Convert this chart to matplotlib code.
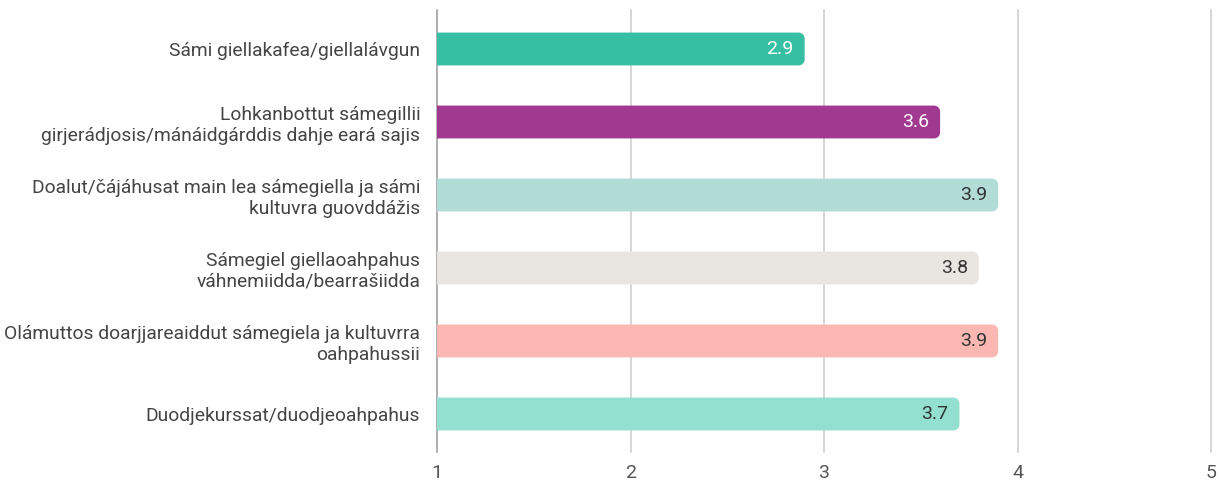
import matplotlib
matplotlib.use("Agg")
import matplotlib.pyplot as plt
from matplotlib.patches import PathPatch
from matplotlib.path import Path

categories = [
    "Sámi giellakafea/giellalávgun",
    "Lohkanbottut sámegillii\ngirjerádjosis/mánáidgárddis dahje eará sajis",
    "Doalut/čájáhusat main lea sámegiella ja sámi\nkultuvra guovddážis",
    "Sámegiel giellaoahpahus\nváhnemiidda/bearrašiidda",
    "Olámuttos doarjjareaiddut sámegiela ja kultuvrra\noahpahussii",
    "Duodjekurssat/duodjeoahpahus",
]
values = [2.9, 3.6, 3.9, 3.8, 3.9, 3.7]
value_labels = ["2.9", "3.6", "3.9", "3.8", "3.9", "3.7"]
colors = ["#36BFA3", "#A0398F", "#B2DDD7", "#E9E6E2", "#FBB8B3", "#93DFD0"]
label_colors = ["white", "white", "#333333", "#333333", "#333333", "#333333"]
xticks = [1, 2, 3, 4, 5]

plt.rcParams["font.family"] = ["Roboto", "DejaVu Sans"]

W, H = 1219, 483
top_px, bot_px = 12.5, 450.5
fig = plt.figure(figsize=(W / 100, H / 100), dpi=100)
ax = fig.add_axes([437 / W, 1 - bot_px / H, (1211 - 437) / W, (bot_px - top_px) / H])

ax.set_xlim(1, 5)
ax.set_ylim(len(categories) - 0.5, -0.5)

ext_top = 1 + 3 / (bot_px - top_px)
ext_bot = -1.5 / (bot_px - top_px)
for x in xticks:
    ax.axvline(x, ymin=ext_bot, ymax=ext_top, clip_on=False,
               color="#999999" if x == 1 else "#cccccc", lw=1.1, zorder=1)

fig.canvas.draw()
inv = ax.transData.inverted()
p0 = inv.transform((0, 0))
p1 = inv.transform((1, 1))
dx = abs(p1[0] - p0[0])
dy = abs(p1[1] - p0[1])
radius_px = 6
rx = radius_px * dx
ry = radius_px * dy
k = 0.5523

h = 0.45
for i, (v, c) in enumerate(zip(values, colors)):
    y0 = i - h / 2
    y1 = i + h / 2
    verts = [
        (1, y0),
        (v - rx, y0),
        (v - rx + k * rx, y0), (v, y0 + ry - k * ry), (v, y0 + ry),
        (v, y1 - ry),
        (v, y1 - ry + k * ry), (v - rx + k * rx, y1), (v - rx, y1),
        (1, y1),
        (1, y0),
    ]
    codes = [Path.MOVETO, Path.LINETO,
             Path.CURVE4, Path.CURVE4, Path.CURVE4,
             Path.LINETO,
             Path.CURVE4, Path.CURVE4, Path.CURVE4,
             Path.LINETO, Path.CLOSEPOLY]
    ax.add_patch(PathPatch(Path(verts, codes), facecolor=c, edgecolor="none", zorder=2))
    ax.annotate(value_labels[i], xy=(v, i), xytext=(-11, 0),
                textcoords="offset pixels", ha="right", va="center",
                fontsize=14, color=label_colors[i], zorder=3)

ax.set_yticks(range(len(categories)))
ax.set_yticklabels(categories, fontsize=13.9, color="#444444")
ax.set_xticks(xticks)
ax.set_xticklabels([str(t) for t in xticks], fontsize=14, color="#555555")
ax.tick_params(axis="both", length=0)
ax.tick_params(axis="y", pad=12)
ax.tick_params(axis="x", pad=10)
for s in ax.spines.values():
    s.set_visible(False)

fig.savefig("out.png", dpi=100)
